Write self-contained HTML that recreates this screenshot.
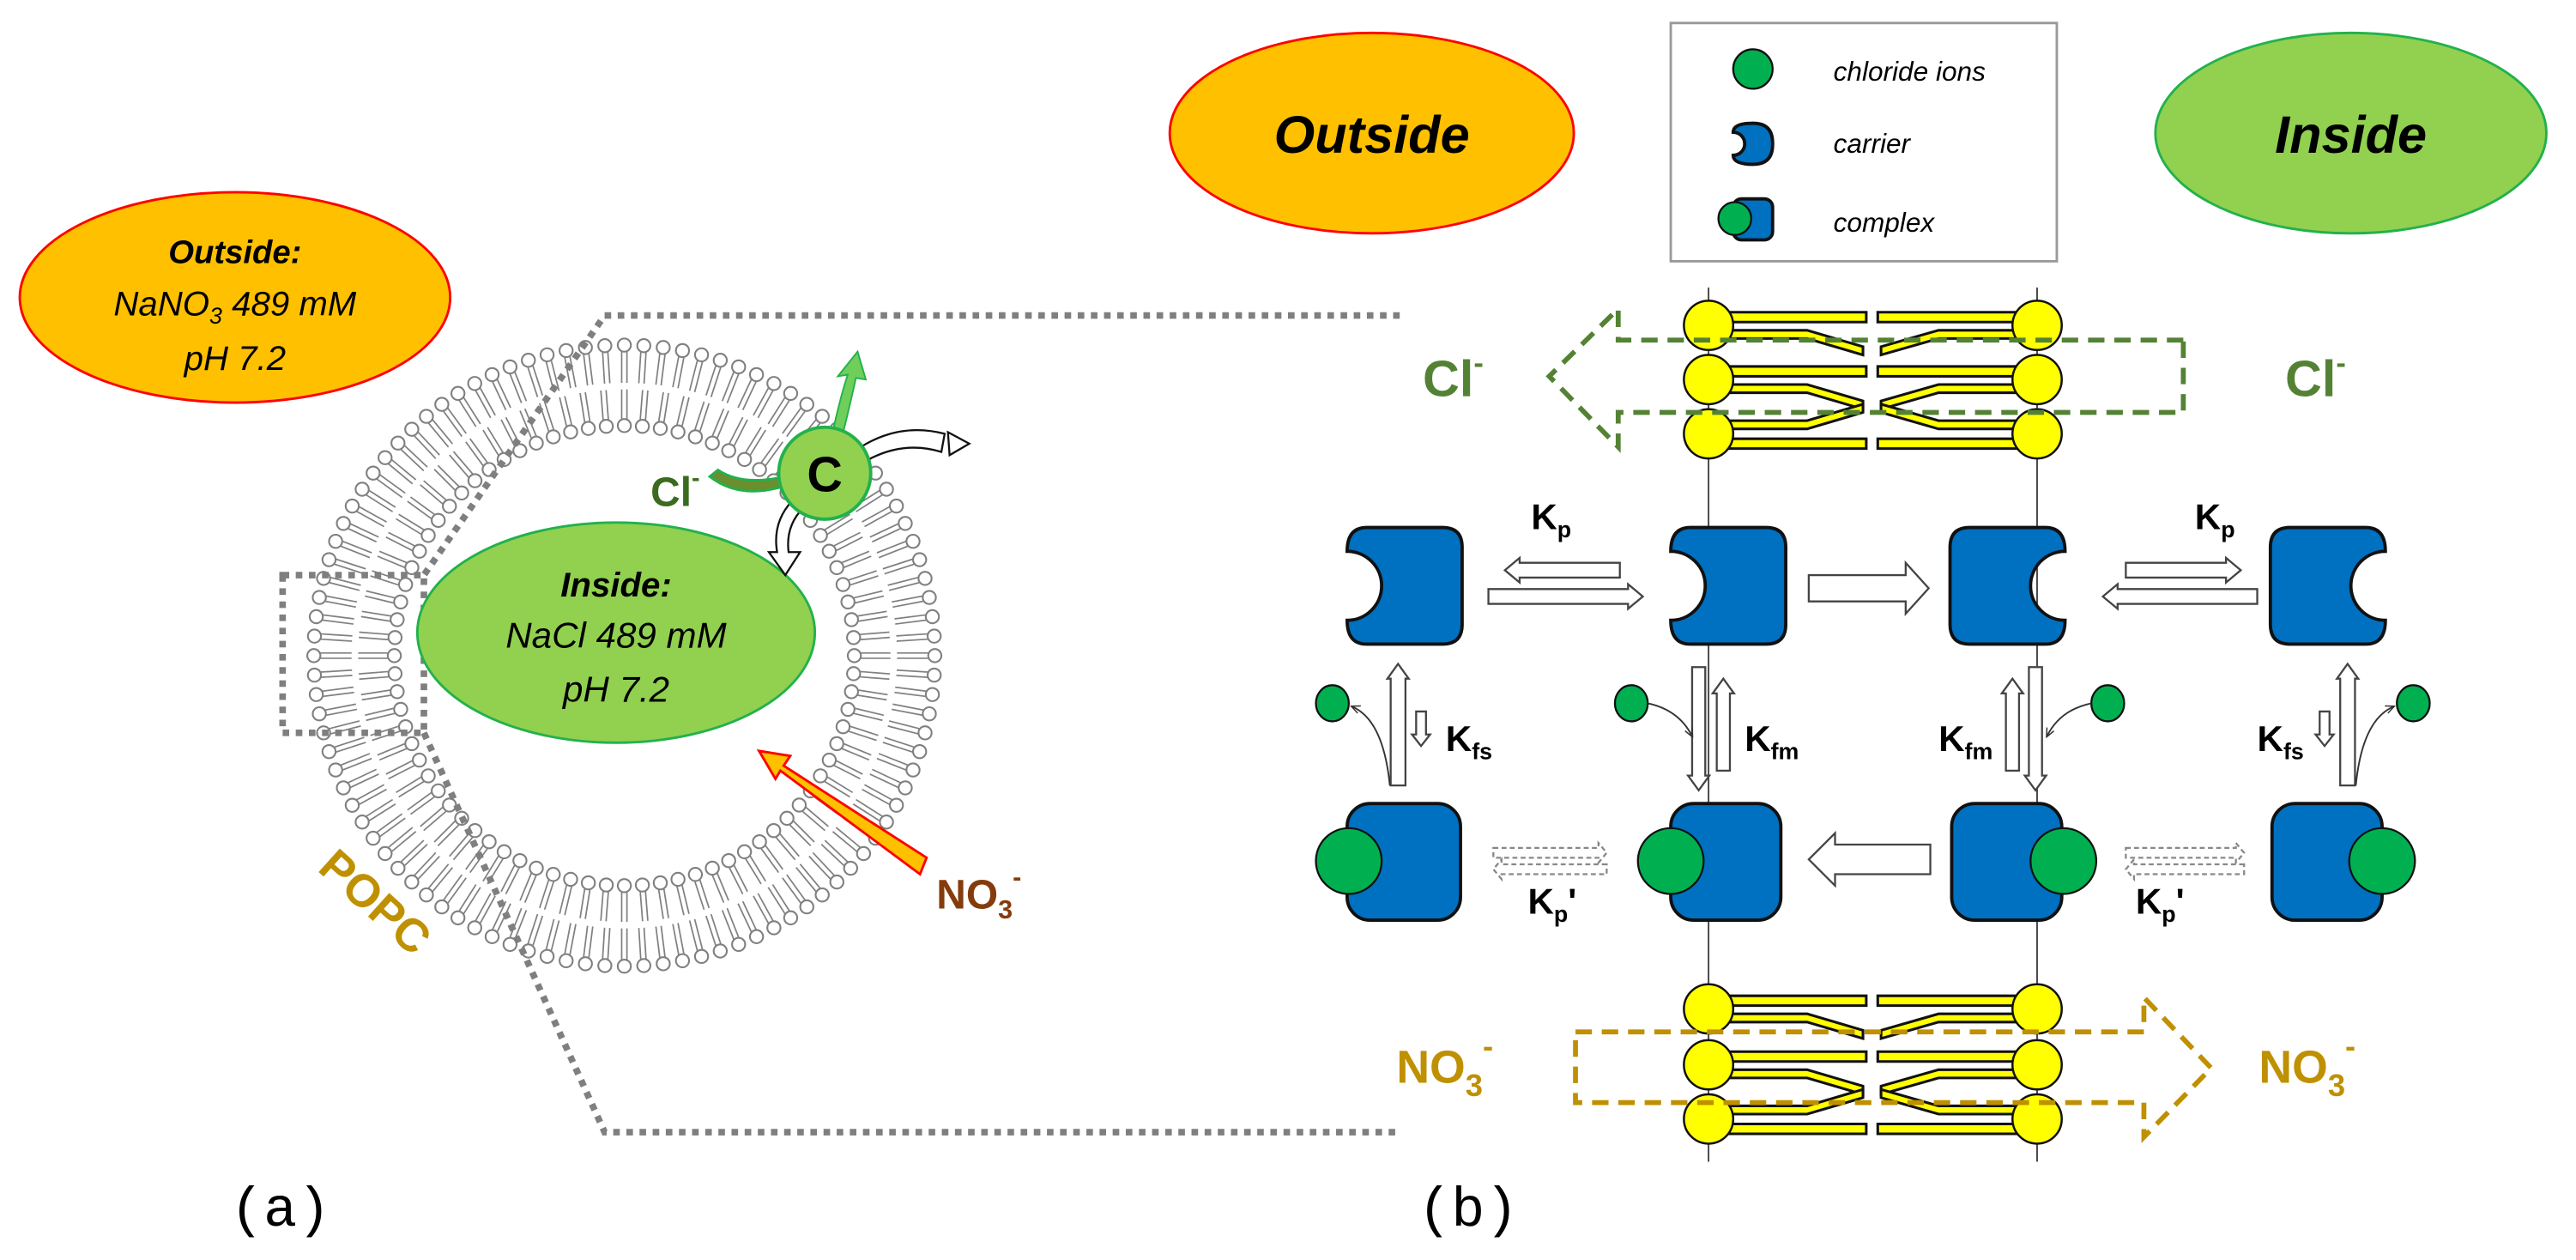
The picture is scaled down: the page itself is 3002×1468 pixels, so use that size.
<!DOCTYPE html>
<html><head><meta charset="utf-8"><style>
html,body{margin:0;padding:0;background:#fff;}
svg{display:block;}
text{font-family:"Liberation Sans",sans-serif;}
</style></head><body>
<svg id="s" width="3002" height="1468" viewBox="0 0 1568 766.8" xmlns="http://www.w3.org/2000/svg">
<defs>
<marker id="ah" viewBox="0 0 10 10" refX="8" refY="5" markerWidth="6" markerHeight="6" orient="auto"><path d="M0,1 L9,5 L0,9" fill="none" stroke="#333" stroke-width="1.3"/></marker>
</defs>
<rect width="1568" height="767" fill="#fff"/>
<g id="ring"></g>

<!-- left panel -->
<ellipse cx="143" cy="181" rx="131" ry="64" fill="#FFC000" stroke="#FF0000" stroke-width="1.5"/>
<text x="143" y="160" text-anchor="middle" font-size="20" font-weight="bold" font-style="italic">Outside:</text>
<text x="143" y="192" text-anchor="middle" font-size="21" font-style="italic">NaNO<tspan font-size="14" dy="5">3</tspan><tspan dy="-5"> 489 mM</tspan></text>
<text x="143" y="225" text-anchor="middle" font-size="21" font-style="italic">pH 7.2</text>

<g fill="none" stroke="#7f7f7f" stroke-width="4" stroke-dasharray="4 4">
<path d="M852,192 H368 L258,350"/>
<rect x="172" y="350" width="86" height="96"/>
<path d="M258,446 L368,689 H852"/>
</g>

<ellipse cx="375" cy="385" rx="121" ry="67" fill="#92D050" stroke="#22B14C" stroke-width="1.5"/>
<text x="375" y="363" text-anchor="middle" font-size="21" font-weight="bold" font-style="italic">Inside:</text>
<text x="375" y="394" text-anchor="middle" font-size="22" font-style="italic">NaCl 489 mM</text>
<text x="375" y="427" text-anchor="middle" font-size="22" font-style="italic">pH 7.2</text>

<!-- carrier C arrows -->
<path d="M507,262 Q512,240 516,228 L510,229 L522,214 L527,231 L521,230 Q517,248 513,264 Z" fill="#6FCF5A" stroke="#22B14C" stroke-width="1"/>
<path d="M477,296 Q450,304 432,290 L437,286 Q452,296 478,290 Z" fill="#6b8e2e" stroke="#22B14C" stroke-width="1.5"/>
<path d="M524,272 Q548,257 575,264 L573,275 Q550,268 528,280 Z" fill="#fff" stroke="#111" stroke-width="1.2"/>
<path d="M577,263 L590,270 L578,277 Z" fill="#fff" stroke="#111" stroke-width="1.2"/>
<path d="M482,305 Q470,318 473,336 L468,336 L478,350 L487,336 L480,336 Q478,320 489,309 Z" fill="#fff" stroke="#111" stroke-width="1.2"/>
<circle cx="502" cy="288" r="28" fill="#92D050" stroke="#22B14C" stroke-width="2"/>
<text x="502" y="299" text-anchor="middle" font-size="30" font-weight="bold">C</text>
<text x="396" y="308" font-size="25" font-weight="bold" fill="#3b6b1e">Cl<tspan font-size="15" dy="-12">-</tspan></text>

<!-- NO3 arrow left -->
<path d="M564,522 L477,466 L481,460 L462,457 L472,474 L475,469 L560,532 Z" fill="#FFC000" stroke="#FF0000" stroke-width="1.5"/>
<text x="570" y="553" font-size="25" font-weight="bold" fill="#843C0C">NO<tspan font-size="16" dy="6">3</tspan><tspan font-size="16" dy="-20">-</tspan></text>

<text transform="translate(222,556) rotate(42)" text-anchor="middle" font-size="28" font-weight="bold" fill="#BF9000">POPC</text>

<text x="140" y="746" font-size="34" style="font-family:'Liberation Mono',monospace">(a)</text>
<text x="863" y="746" font-size="34" style="font-family:'Liberation Mono',monospace">(b)</text>

<!-- right panel -->
<ellipse cx="835" cy="81" rx="123" ry="61" fill="#FFC000" stroke="#FF0000" stroke-width="1.5"/>
<text x="835" y="93" text-anchor="middle" font-size="32" font-weight="bold" font-style="italic">Outside</text>
<ellipse cx="1431" cy="81" rx="119" ry="61" fill="#92D050" stroke="#22B14C" stroke-width="1.5"/>
<text x="1431" y="93" text-anchor="middle" font-size="32" font-weight="bold" font-style="italic">Inside</text>

<rect x="1017" y="14" width="235" height="145" fill="#fff" stroke="#999" stroke-width="1.5"/>
<circle cx="1067" cy="42" r="12" fill="#00B050" stroke="#111" stroke-width="1.2"/>
<text x="1116" y="49" font-size="16.5" font-style="italic">chloride ions</text>
<text x="1116" y="93" font-size="16.5" font-style="italic">carrier</text>
<text x="1116" y="141" font-size="16.5" font-style="italic">complex</text>

<line x1="1040" y1="175" x2="1040" y2="707" stroke="#444" stroke-width="1"/>
<line x1="1240" y1="175" x2="1240" y2="707" stroke="#444" stroke-width="1"/>

<g id="dyn"></g>

<path d="M1329,207 H985 V188 L943,229 L985,272 V251 H1329 Z" fill="none" stroke="#548235" stroke-width="3" stroke-dasharray="10 6"/>
<path d="M959,628 H1305 V607 L1346,650 L1305,692 V671 H959 Z" fill="none" stroke="#BF9000" stroke-width="3" stroke-dasharray="10 6"/>

<text x="866" y="241" font-size="31" font-weight="bold" fill="#548235">Cl<tspan font-size="18" dy="-14">-</tspan></text>
<text x="1391" y="241" font-size="31" font-weight="bold" fill="#548235">Cl<tspan font-size="18" dy="-14">-</tspan></text>
<text x="850" y="659" font-size="28" font-weight="bold" fill="#BF9000">NO<tspan font-size="19" dy="8">3</tspan><tspan font-size="19" dy="-24">-</tspan></text>
<text x="1375" y="659" font-size="28" font-weight="bold" fill="#BF9000">NO<tspan font-size="19" dy="8">3</tspan><tspan font-size="19" dy="-24">-</tspan></text>

<g font-size="22" font-weight="bold">
<text x="932" y="322">K<tspan font-size="14" dy="5">p</tspan></text>
<text x="1336" y="322">K<tspan font-size="14" dy="5">p</tspan></text>
<text x="880" y="457">K<tspan font-size="14" dy="5">fs</tspan></text>
<text x="1062" y="457">K<tspan font-size="14" dy="5">fm</tspan></text>
<text x="1180" y="457">K<tspan font-size="14" dy="5">fm</tspan></text>
<text x="1374" y="457">K<tspan font-size="14" dy="5">fs</tspan></text>
<text x="930" y="556">K<tspan font-size="14" dy="5">p</tspan><tspan dy="-5">'</tspan></text>
<text x="1300" y="556">K<tspan font-size="14" dy="5">p</tspan><tspan dy="-5">'</tspan></text>
</g>
</svg>
<script>
(function(){
var NS="http://www.w3.org/2000/svg";
function el(p,t,a){var e=document.createElementNS(NS,t);for(var k in a)e.setAttribute(k,a[k]);p.appendChild(e);return e;}
var ring=document.getElementById("ring");
var cx=380,cy=399;
function leaflet(N,rh,rt1,rt2){
 for(var i=0;i<N;i++){var a=2*Math.PI*i/N,c=Math.cos(a),s=Math.sin(a),px=-s,py=c;
  for(var o=-1.6;o<=1.6;o+=3.2){el(ring,"line",{x1:cx+c*rt1+px*o,y1:cy+s*rt1+py*o,x2:cx+c*rt2+px*o,y2:cy+s*rt2+py*o,stroke:"#808080","stroke-width":0.9});}
  el(ring,"circle",{cx:cx+c*rh,cy:cy+s*rh,r:4,fill:"#fff",stroke:"#808080","stroke-width":1.1});}
}
leaflet(100,189,185,166);
leaflet(80,140,144,162);
var d=document.getElementById("dyn");
function carrier(x,y,w,h,side,nr){
 var r=12,p;
 if(side==="L"){p="M"+(x+r)+","+y+" H"+(x+w-r)+" Q"+(x+w)+","+y+" "+(x+w)+","+(y+r)+" V"+(y+h-r)+" Q"+(x+w)+","+(y+h)+" "+(x+w-r)+","+(y+h)+" H"+(x+r)+" Q"+x+","+(y+h)+" "+x+","+(y+h/2+nr)+" A"+nr+" "+nr+" 0 0 0 "+x+","+(y+h/2-nr)+" Q"+x+","+y+" "+(x+r)+","+y+" Z";}
 else{p="M"+(x+w-r)+","+y+" H"+(x+r)+" Q"+x+","+y+" "+x+","+(y+r)+" V"+(y+h-r)+" Q"+x+","+(y+h)+" "+(x+r)+","+(y+h)+" H"+(x+w-r)+" Q"+(x+w)+","+(y+h)+" "+(x+w)+","+(y+h/2+nr)+" A"+nr+" "+nr+" 0 0 1 "+(x+w)+","+(y+h/2-nr)+" Q"+(x+w)+","+y+" "+(x+w-r)+","+y+" Z";}
 el(d,"path",{d:p,fill:"#0070C0",stroke:"#111","stroke-width":2});
}
function rrect(x,y,w,h,r){el(d,"rect",{x:x,y:y,width:w,height:h,rx:r,fill:"#0070C0",stroke:"#111","stroke-width":2});}
function ell(x,y,rx,ry,f){el(d,"ellipse",{cx:x,cy:y,rx:rx,ry:ry,fill:f||"#00B050",stroke:"#111","stroke-width":1.2});}
carrier(1055,75,24,25,"L",7);
rrect(1055,121,24,25,5); ell(1056,133,10,10);
carrier(820,321,70,71,"L",21);
carrier(1017,321,70,71,"L",21);
carrier(1187,321,70,71,"R",21);
carrier(1382,321,70,71,"R",21);
rrect(820,489,69,71,14); ell(821,524,20,20);
rrect(1017,489,67,71,14); ell(1017,524,20,20);
rrect(1188,489,67,71,14); ell(1256,524,20,20);
rrect(1383,489,67,71,14); ell(1450,524,20,20);
function harrow(x1,x2,y,bh,hh,hl,dash){
 var dir=x2>x1?1:-1,xb=x2-dir*hl;
 var p="M"+x1+","+(y-bh/2)+" H"+xb+" V"+(y-hh/2)+" L"+x2+","+y+" L"+xb+","+(y+hh/2)+" V"+(y+bh/2)+" H"+x1+" Z";
 var a={d:p,fill:"#fff",stroke:dash?"#888":"#444","stroke-width":1.2};if(dash)a["stroke-dasharray"]="3 2";el(d,"path",a);
}
function varrow(x,y1,y2,bw,hw,hl){
 var dir=y2>y1?1:-1,yb=y2-dir*hl;
 var p="M"+(x-bw/2)+","+y1+" V"+yb+" H"+(x-hw/2)+" L"+x+","+y2+" L"+(x+hw/2)+","+yb+" H"+(x+bw/2)+" V"+y1+" Z";
 el(d,"path",{d:p,fill:"#fff",stroke:"#444","stroke-width":1.2});
}
harrow(986,916,347,9,15,9); harrow(906,1000,363,9,15,9);
harrow(1101,1174,358,16,31,14);
harrow(1294,1364,347,9,15,9); harrow(1374,1280,363,9,15,9);
harrow(1175,1101,523,18,32,16);
harrow(909,978,519,6,12,5,1); harrow(978,909,529,6,12,5,1);
harrow(1294,1366,519,6,12,5,1); harrow(1366,1294,529,6,12,5,1);
varrow(851,478,404,9,13,9); varrow(865,433,454,6,11,7);
varrow(1034,406,481,8,13,9); varrow(1049,469,413,8,13,9);
varrow(1225,469,413,8,13,9); varrow(1239,406,481,8,13,9);
varrow(1429,478,404,9,13,9); varrow(1415,433,454,6,11,7);
ell(811,428,10,11); ell(993,428,10,11); ell(1283,428,10,11); ell(1469,428,10,11);
function curve(p){el(d,"path",{d:p,fill:"none",stroke:"#333","stroke-width":1,"marker-end":"url(#ah)"});}
curve("M846,478 Q842,438 823,430");
curve("M1003,428 Q1022,432 1030,448");
curve("M1273,428 Q1254,432 1246,448");
curve("M1434,478 Q1438,438 1457,430");
function bilayer(ys){
 ys.forEach(function(y,i){
  [[1040,1],[1240,-1]].forEach(function(c){
   var x0=c[0]+c[1]*12, xe=c[1]>0?1136:1143;
   [-8,3].forEach(function(o,j){
    var p;
    if((i==0&&j==1)||(i==1&&j==1)||(i==2&&j==0)){
      var xm=c[0]+c[1]*60, dy=(i==2)?-10:10;
      p="M"+x0+","+(y+o)+" H"+xm+" L"+(xe-c[1]*2)+","+(y+o+dy)+" L"+(xe-c[1]*2)+","+(y+o+dy+5)+" L"+xm+","+(y+o+5)+" H"+x0+" Z";
    } else {
      p="M"+x0+","+(y+o)+" H"+xe+" V"+(y+o+6)+" H"+x0+" Z";
    }
    el(d,"path",{d:p,fill:"#FFFF00",stroke:"#111","stroke-width":1.6});
   });
   el(d,"ellipse",{cx:c[0],cy:y,rx:15,ry:15,fill:"#FFFF00",stroke:"#111","stroke-width":1.3});
  });
 });
}
bilayer([198,231,264]);
bilayer([614,648,681]);
})();
</script>
</body></html>
